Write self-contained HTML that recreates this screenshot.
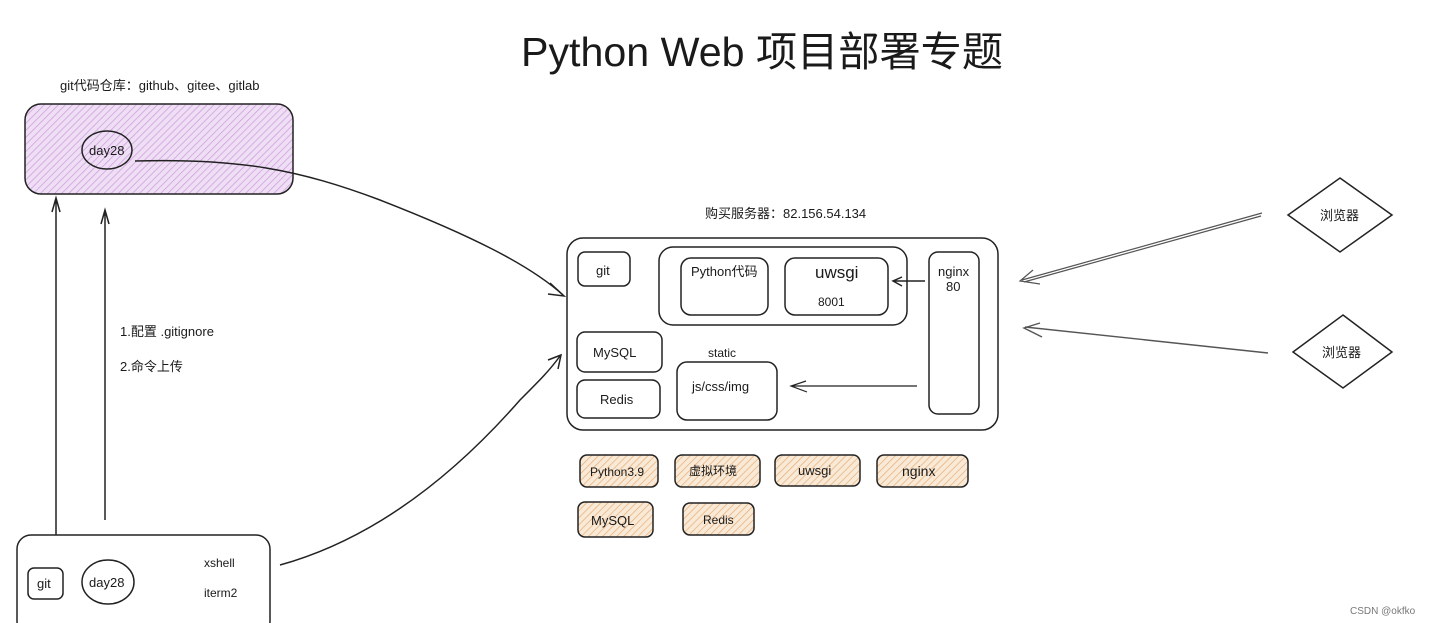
<!DOCTYPE html>
<html><head><meta charset="utf-8"><style>
html,body{margin:0;padding:0;background:#fff;}
svg{display:block;}
text{font-family:"Liberation Sans","Noto Sans CJK SC",sans-serif;fill:#1a1a1a;}
</style></head><body>
<svg width="1433" height="623" viewBox="0 0 1433 623" xmlns="http://www.w3.org/2000/svg">
<defs>
<pattern id="pp" width="5" height="5" patternUnits="userSpaceOnUse" patternTransform="rotate(45)">
<rect width="5" height="5" fill="#efdff4"/><line x1="0" y1="0" x2="0" y2="5" stroke="#cf9be0" stroke-width="1.5"/>
</pattern>
<pattern id="po" width="5" height="5" patternUnits="userSpaceOnUse" patternTransform="rotate(45)">
<rect width="5" height="5" fill="#f9ead8"/><line x1="0" y1="0" x2="0" y2="5" stroke="#e8b07a" stroke-width="1.5"/>
</pattern>
</defs>
<g fill="none" stroke="#222" stroke-width="1.5">
<text x="521" y="66" font-size="41" stroke="none" textLength="482" lengthAdjust="spacingAndGlyphs">Python Web 项目部署专题</text>
<text x="60" y="90" font-size="13" stroke="none">git代码仓库：github、gitee、gitlab</text>
<rect x="25" y="104" width="268" height="90" rx="16" fill="url(#pp)"/>
<ellipse cx="107" cy="150" rx="25" ry="19" fill="url(#pp)"/>
<text x="89" y="155" font-size="13" stroke="none">day28</text>
<path d="M135 161 C240 158 300 170 380 200 C470 235 530 265 563 295"/>
<path d="M550 283 L564 296 L548 294" />
<path d="M56 535 V200 M52 212 L56 198 L60 212"/>
<path d="M105 520 V210 M101 224 L105 210 L109 224"/>
<text x="120" y="336" font-size="13" stroke="none">1.配置 .gitignore</text>
<text x="120" y="371" font-size="13" stroke="none">2.命令上传</text>
<rect x="17" y="535" width="253" height="100" rx="14"/>
<rect x="28" y="568" width="35" height="31" rx="6"/>
<text x="37" y="588" font-size="13" stroke="none">git</text>
<ellipse cx="108" cy="582" rx="26" ry="22"/>
<text x="89" y="587" font-size="13" stroke="none">day28</text>
<text x="204" y="567" font-size="12" stroke="none">xshell</text>
<text x="204" y="597" font-size="12" stroke="none">iterm2</text>
<path d="M280 565 C370 540 450 480 520 400 C540 380 550 370 560 356"/>
<path d="M548 360 L561 355 L558 369"/>
<text x="705" y="218" font-size="13" stroke="none">购买服务器：82.156.54.134</text>
<rect x="567" y="238" width="431" height="192" rx="16"/>
<rect x="578" y="252" width="52" height="34" rx="7"/>
<text x="596" y="275" font-size="13" stroke="none">git</text>
<rect x="659" y="247" width="248" height="78" rx="14"/>
<rect x="681" y="258" width="87" height="57" rx="10"/>
<text x="691" y="276" font-size="13" stroke="none">Python代码</text>
<rect x="785" y="258" width="103" height="57" rx="10"/>
<text x="815" y="278" font-size="17" stroke="none">uwsgi</text>
<text x="818" y="306" font-size="12" stroke="none">8001</text>
<rect x="929" y="252" width="50" height="162" rx="9"/>
<text x="938" y="276" font-size="13" stroke="none">nginx</text>
<text x="946" y="291" font-size="13" stroke="none">80</text>
<path d="M925 281 H894 M902 277 L893 281 L902 286"/>
<rect x="577" y="332" width="85" height="40" rx="8"/>
<text x="593" y="357" font-size="13" stroke="none">MySQL</text>
<rect x="577" y="380" width="83" height="38" rx="8"/>
<text x="600" y="404" font-size="13" stroke="none">Redis</text>
<text x="708" y="357" font-size="12" stroke="none">static</text>
<rect x="677" y="362" width="100" height="58" rx="10"/>
<text x="692" y="391" font-size="13" stroke="none">js/css/img</text>
<path d="M917 386 H793 M806 381 L791 386 L807 392" stroke-width="1.2"/>
<path d="M1262 213 L1022 280 M1261 216 L1024 282 M1033 270 L1020 281 L1040 284" stroke="#555" stroke-width="1.2"/>
<path d="M1268 353 L1025 327 M1040 323 L1024 328 L1042 337" stroke="#555" stroke-width="1.4"/>
<path d="M1340 178 L1392 215 L1340 252 L1288 215 Z"/>
<text x="1320" y="220" font-size="13" stroke="none">浏览器</text>
<path d="M1343 315 L1392 352 L1343 388 L1293 352 Z"/>
<text x="1322" y="357" font-size="13" stroke="none">浏览器</text>
<rect x="580" y="455" width="78" height="32" rx="7" fill="url(#po)"/>
<text x="590" y="476" font-size="12" stroke="none">Python3.9</text>
<rect x="675" y="455" width="85" height="32" rx="7" fill="url(#po)"/>
<text x="689" y="475" font-size="12" stroke="none">虚拟环境</text>
<rect x="775" y="455" width="85" height="31" rx="7" fill="url(#po)"/>
<text x="798" y="475" font-size="13" stroke="none">uwsgi</text>
<rect x="877" y="455" width="91" height="32" rx="7" fill="url(#po)"/>
<text x="902" y="476" font-size="14" stroke="none">nginx</text>
<rect x="578" y="502" width="75" height="35" rx="7" fill="url(#po)"/>
<text x="591" y="525" font-size="13" stroke="none">MySQL</text>
<rect x="683" y="503" width="71" height="32" rx="7" fill="url(#po)"/>
<text x="703" y="524" font-size="12" stroke="none">Redis</text>
<text x="1350" y="614" font-size="10" stroke="none" style="fill:#777">CSDN @okfko</text>
</g>
</svg>
</body></html>
